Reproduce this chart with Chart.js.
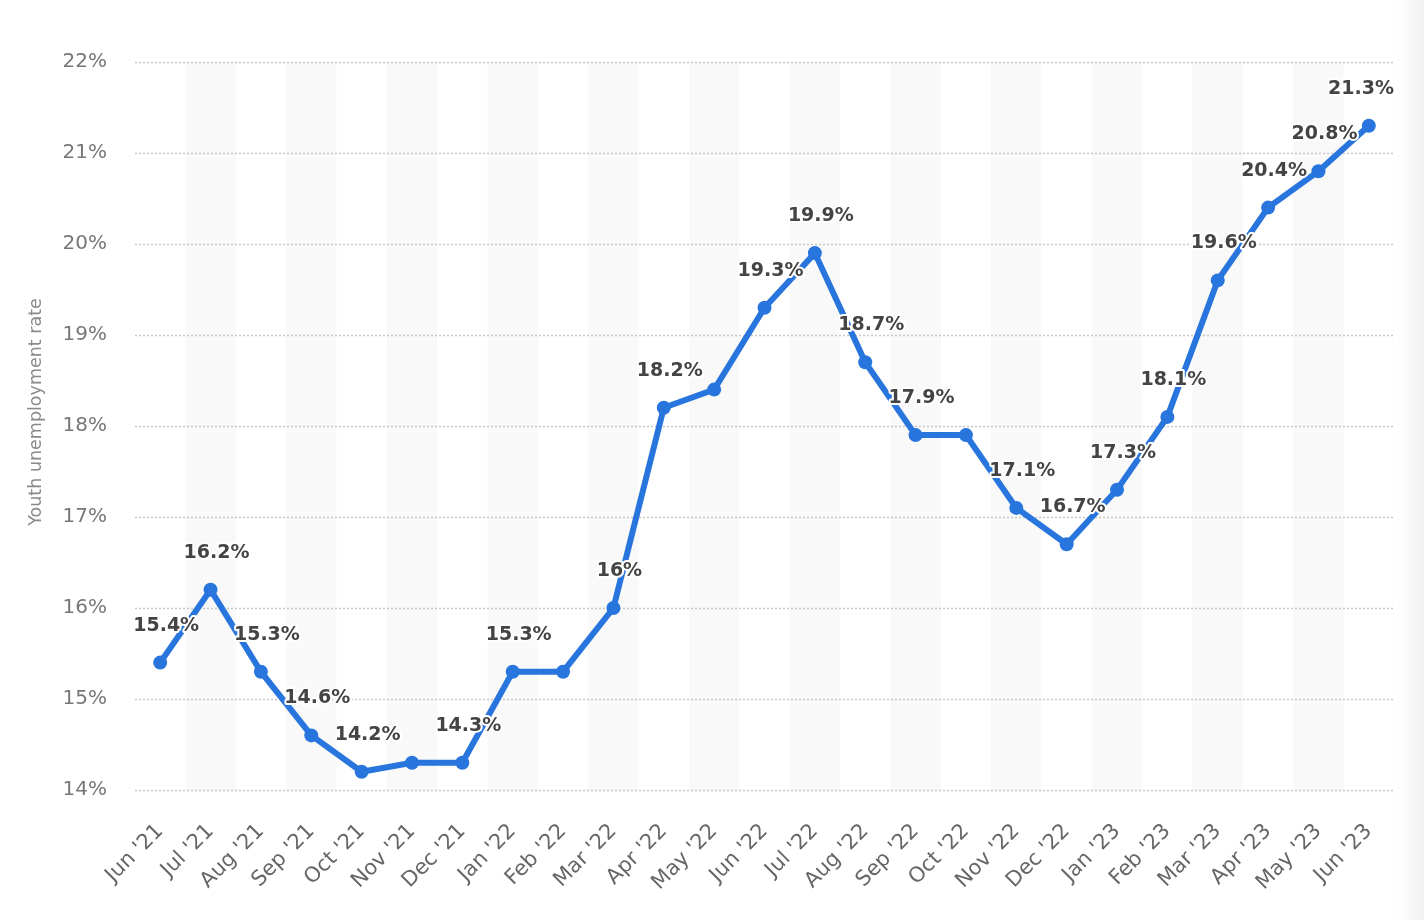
<!DOCTYPE html>
<html>
<head>
<meta charset="utf-8">
<script src="https://cdn.jsdelivr.net/npm/chart.js@4"></script>
<style>
  html, body { margin: 0; padding: 0; background: #fff; }
  #wrap { position: relative; width: 1424px; height: 920px; }
</style>
</head>
<body>
<div id="wrap"><canvas id="c" width="1424" height="920"></canvas></div>
<script>
const categories = ["Jun '21","Jul '21","Aug '21","Sep '21","Oct '21","Nov '21","Dec '21","Jan '22","Feb '22","Mar '22","Apr '22","May '22","Jun '22","Jul '22","Aug '22","Sep '22","Oct '22","Nov '22","Dec '22","Jan '23","Feb '23","Mar '23","Apr '23","May '23","Jun '23"];
const youthRate = [15.4,16.2,15.3,14.6,14.2,14.3,14.3,15.3,15.3,16,18.2,18.4,19.3,19.9,18.7,17.9,17.9,17.1,16.7,17.3,18.1,19.6,20.4,20.8,21.3];
const labelShown = [true,true,true,true,true,false,true,true,false,true,true,false,true,true,true,true,false,true,true,true,true,true,true,true,true];
const yTicks = [14,15,16,17,18,19,20,21,22];
const yTitle = "Youth unemployment rate";

const FONT = "'DejaVu Sans', sans-serif";

const bandsPlugin = {
  id: 'bands',
  beforeDatasetsDraw(chart) {
    const {ctx, chartArea} = chart;
    const x = chart.scales.x;
    const y = chart.scales.y;
    ctx.save();
    ctx.fillStyle = '#f9f9f9';
    const half = (x.getPixelForValue(1) - x.getPixelForValue(0)) / 2;
    for (let i = 1; i < categories.length; i += 2) {
      const cx = x.getPixelForValue(i);
      ctx.fillRect(cx - half, chartArea.top, half * 2, chartArea.bottom - chartArea.top);
    }
    ctx.strokeStyle = '#c8c8c8';
    ctx.lineWidth = 1.5;
    ctx.setLineDash([2, 2]);
    yTicks.forEach(v => {
      const py = Math.round(y.getPixelForValue(v)) + 0.5;
      ctx.beginPath();
      ctx.moveTo(chartArea.left, py);
      ctx.lineTo(chartArea.right, py);
      ctx.stroke();
    });
    ctx.restore();
  }
};

const labelsPlugin = {
  id: 'valueLabels',
  afterDatasetsDraw(chart) {
    const {ctx, chartArea} = chart;
    const meta = chart.getDatasetMeta(0);
    ctx.save();
    ctx.font = "bold 19px " + FONT;
    ctx.textAlign = 'center';
    ctx.textBaseline = 'middle';
    ctx.lineJoin = 'round';
    meta.data.forEach((pt, i) => {
      if (!labelShown[i]) return;
      const txt = youthRate[i] + '%';
      const w = ctx.measureText(txt).width;
      let x = pt.x + 6;
      if (x + w / 2 > chartArea.right) x = chartArea.right - w / 2;
      const y = pt.y - 37;
      ctx.strokeStyle = '#ffffff';
      ctx.lineWidth = 4;
      ctx.strokeText(txt, x, y);
      ctx.fillStyle = '#444444';
      ctx.fillText(txt, x, y);
    });
    ctx.restore();
  },
  afterDraw(chart) {
    const {ctx, chartArea} = chart;
    ctx.save();
    // axis title
    ctx.translate(36, (chartArea.top + chartArea.bottom) / 2 - 14);
    ctx.rotate(-Math.PI / 2);
    ctx.font = "17.5px " + FONT;
    ctx.fillStyle = '#8a8a8a';
    ctx.textAlign = 'center';
    ctx.textBaseline = 'middle';
    ctx.fillText(yTitle, 0, 0);
    ctx.restore();
    ctx.save();
    const g = ctx.createLinearGradient(1396, 0, 1424, 0);
    g.addColorStop(0, 'rgba(0,0,0,0)');
    g.addColorStop(1, 'rgba(0,0,0,0.05)');
    ctx.fillStyle = g;
    ctx.fillRect(1396, 0, 28, 920);
    ctx.restore();
  }
};

new Chart(document.getElementById('c'), {
  type: 'line',
  data: {
    labels: categories,
    datasets: [{
      data: youthRate,
      borderColor: '#2876dd',
      backgroundColor: '#2876dd',
      borderWidth: 6,
      pointRadius: 7,
      pointHoverRadius: 7,
      pointBackgroundColor: '#2876dd',
      pointBorderWidth: 0,
      tension: 0,
      fill: false,
      clip: false
    }]
  },
  options: {
    responsive: false,
    animation: false,
    devicePixelRatio: 1,
    layout: { padding: { top: 62, right: 30, bottom: 0, left: 0 } },
    plugins: { legend: { display: false }, tooltip: { enabled: false } },
    scales: {
      x: {
        type: 'category',
        offset: true,
        grid: { display: false, drawTicks: false },
        border: { display: false },
        ticks: {
          autoSkip: false,
          maxRotation: 45,
          minRotation: 45,
          padding: 29,
          color: '#666666',
          font: { family: FONT, size: 21 }
        },
        afterFit(s) { s.height = 130; }
      },
      y: {
        min: 14,
        max: 22,
        grid: { display: false, drawTicks: false },
        border: { display: false },
        afterBuildTicks(s) { s.ticks = yTicks.map(v => ({ value: v })); },
        ticks: {
          padding: 28,
          color: '#777777',
          font: { family: FONT, size: 20 },
          callback: v => v + '%'
        },
        title: { display: false },
        afterFit(s) { s.width = 135; }
      }
    }
  },
  plugins: [bandsPlugin, labelsPlugin]
});
</script>
</body>
</html>
